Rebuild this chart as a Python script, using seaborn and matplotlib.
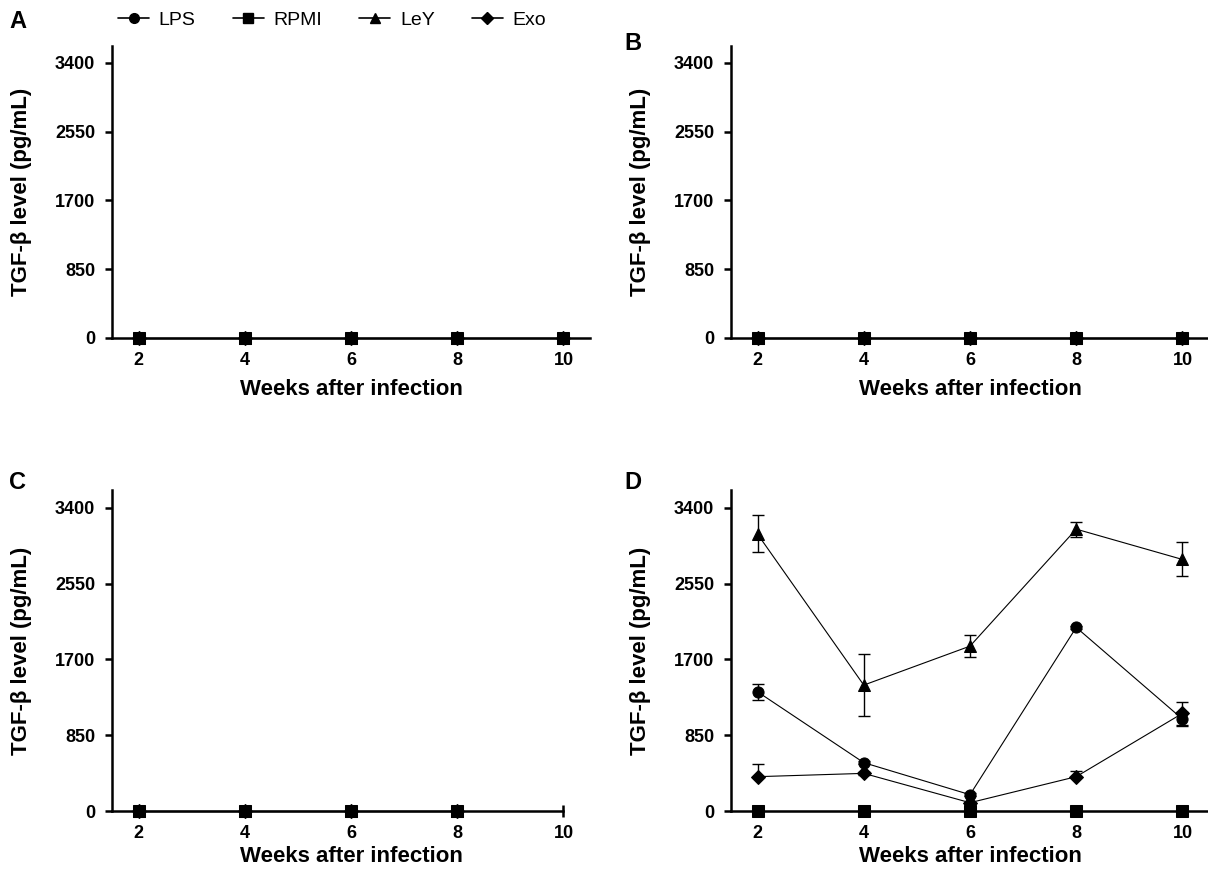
import pandas as pd
import matplotlib
matplotlib.use('Agg')
import matplotlib.pyplot as plt
from matplotlib.lines import Line2D
import seaborn as sns

# ------------------ data ------------------
weeks = [2, 4, 6, 8, 10]
weeks_c = [2, 4, 6, 8]
groups = ['LPS', 'RPMI', 'LeY', 'Exo']
markers = {'LPS': 'o', 'RPMI': 's', 'LeY': '^', 'Exo': 'D'}
msizes = {'LPS': 8, 'RPMI': 8, 'LeY': 8.5, 'Exo': 7}
yticks = [0, 850, 1700, 2550, 3400]

# Panel A and B: every group stays at zero
a_lps = [0, 0, 0, 0, 0]
a_rpmi = [0, 0, 0, 0, 0]
a_ley = [0, 0, 0, 0, 0]
a_exo = [0, 0, 0, 0, 0]

b_lps = [0, 0, 0, 0, 0]
b_rpmi = [0, 0, 0, 0, 0]
b_ley = [0, 0, 0, 0, 0]
b_exo = [0, 0, 0, 0, 0]

# Panel C: only weeks 2-8 measured
c_lps = [0, 0, 0, 0]
c_rpmi = [0, 0, 0, 0]
c_ley = [0, 0, 0, 0]
c_exo = [0, 0, 0, 0]

# Panel D
d_lps = [1337, 542, 183, 2059, 1031]
d_rpmi = [0, 0, 0, 0, 0]
d_ley = [3105, 1412, 1849, 3161, 2821]
d_exo = [385, 422, 93, 385, 1095]

# error bars (lower, upper)
d_lps_lo = [88, 20, 20, 20, 75]
d_lps_hi = [88, 20, 20, 20, 75]
d_ley_lo = [205, 348, 120, 85, 190]
d_ley_hi = [215, 348, 120, 85, 195]
d_exo_lo = [0, 20, 10, 0, 127]
d_exo_hi = [138, 20, 10, 67, 127]


def to_long(x, lps, rpmi, ley, exo):
    frames = []
    for name, vals in zip(groups, [lps, rpmi, ley, exo]):
        frames.append(pd.DataFrame({'Week': x, 'Level': vals, 'Group': name}))
    return pd.concat(frames, ignore_index=True)


# ------------------ styling ------------------
sns.set_style('ticks')
plt.rcParams['font.family'] = ['Liberation Sans', 'DejaVu Sans']
plt.rcParams['axes.linewidth'] = 1.8
for k in ['text.color', 'axes.labelcolor', 'xtick.color', 'ytick.color', 'axes.edgecolor']:
    plt.rcParams[k] = 'black'

fig = plt.figure(figsize=(12.08, 8.71), dpi=100)

W = 478 / 1208
positions = {
    'A': [112 / 1208, (871 - 338) / 871, W, 292 / 871],
    'B': [731 / 1208, (871 - 338) / 871, W, 292 / 871],
    'C': [112 / 1208, (871 - 811) / 871, W, 321 / 871],
    'D': [731 / 1208, (871 - 811) / 871, W, 321 / 871],
}
ytops = {'A': 3610, 'B': 3610, 'C': 3600, 'D': 3600}

panel_data = {
    'A': to_long(weeks, a_lps, a_rpmi, a_ley, a_exo),
    'B': to_long(weeks, b_lps, b_rpmi, b_ley, b_exo),
    'C': to_long(weeks_c, c_lps, c_rpmi, c_ley, c_exo),
    'D': to_long(weeks, d_lps, d_rpmi, d_ley, d_exo),
}

# draw RPMI last so squares sit on top where everything overlaps
draw_order = ['LPS', 'LeY', 'Exo', 'RPMI']

for key, pos in positions.items():
    ax = fig.add_axes(pos)
    df = panel_data[key]
    for g in draw_order:
        sub = df[df['Group'] == g]
        sns.lineplot(data=sub, x='Week', y='Level', marker=markers[g],
                     markersize=msizes[g], color='black', linewidth=0.8,
                     markeredgecolor='black', ax=ax, clip_on=False,
                     zorder=4, legend=False)

    if key == 'D':
        for vals, lo, hi in [(d_lps, d_lps_lo, d_lps_hi),
                             (d_ley, d_ley_lo, d_ley_hi),
                             (d_exo, d_exo_lo, d_exo_hi)]:
            ax.errorbar(weeks, vals, yerr=[lo, hi], fmt='none', ecolor='black',
                        elinewidth=1.0, capsize=4, capthick=1.0, zorder=3,
                        clip_on=False)

    ax.set_xlim(1.5, 10.5)
    ax.set_ylim(0, ytops[key])
    ax.set_xticks(weeks)
    ax.set_yticks(yticks)
    sns.despine(ax=ax)
    if key == 'C':
        ax.spines['bottom'].set_bounds(1.5, 10)

    ax.tick_params(axis='y', direction='out', length=5, width=1.8, pad=7,
                   labelsize=13)
    ax.tick_params(axis='x', direction='inout', length=8, width=1.8, pad=6,
                   labelsize=13)
    for lab in ax.get_xticklabels() + ax.get_yticklabels():
        lab.set_fontweight('bold')

    ax.set_xlabel('Weeks after infection', fontsize=16, fontweight='bold',
                  labelpad=7 if key in 'AB' else 3)
    ax.set_ylabel('TGF-\u03b2 level (pg/mL)', fontsize=16, fontweight='bold')
    ax.yaxis.set_label_coords(-0.168, 0.5)

# panel letters
fig.text(18 / 1208, 1 - 22 / 871, 'A', fontsize=17, fontweight='bold', ha='center', va='center')
fig.text(633 / 1208, 1 - 43 / 871, 'B', fontsize=17, fontweight='bold', ha='center', va='center')
fig.text(18 / 1208, 1 - 482 / 871, 'C', fontsize=17, fontweight='bold', ha='center', va='center')
fig.text(633 / 1208, 1 - 482 / 871, 'D', fontsize=17, fontweight='bold', ha='center', va='center')

# shared legend across the top
handles = [Line2D([0], [0], color='black', linewidth=1.2, marker=markers[g],
                  markersize=msizes[g] - 1, markeredgecolor='black') for g in groups]
fig.legend(handles, groups, loc='center left', ncol=4, frameon=False,
           bbox_to_anchor=(118 / 1208, 1 - 20 / 871), borderaxespad=0,
           borderpad=0, fontsize=14, handlelength=1.6, handletextpad=0.5,
           columnspacing=1.9)

fig.savefig('out.png', dpi=100)
